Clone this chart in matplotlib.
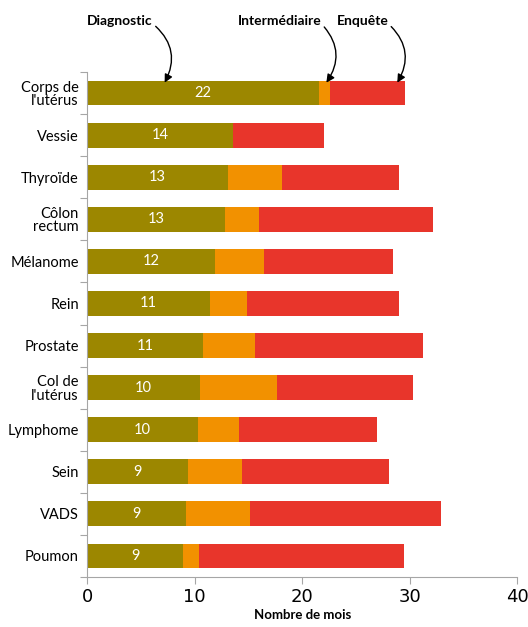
import numpy as np
import matplotlib
matplotlib.use("Agg")
import matplotlib.pyplot as plt

# categories, top to bottom
cats = ["Corps de\nl'utérus", "Vessie", "Thyroïde", "Côlon\nrectum", "Mélanome", "Rein",
        "Prostate", "Col de\nl'utérus", "Lymphome", "Sein", "VADS", "Poumon"]
diag = [21.6, 13.6, 13.1, 12.8, 11.9, 11.4, 10.8, 10.5, 10.3, 9.4, 9.2, 8.9]
inter = [1.0, 0.0, 5.0, 3.15, 4.55, 3.5, 4.85, 7.15, 3.8, 5.0, 5.9, 1.5]
enq = [7.0, 8.4, 10.95, 16.2, 12.0, 14.1, 15.6, 12.7, 12.9, 13.65, 17.8, 19.1]
diag_labels = ["22", "14", "13", "13", "12", "11", "11", "10", "10", "9", "9", "9"]

c_diag = "#9C8700"
c_inter = "#F29100"
c_enq = "#E8352B"
grey = "#A6A6A6"
lab_font = ["Lato", "DejaVu Sans"]

fig = plt.figure(figsize=(5.28, 6.27), dpi=100)
ax = fig.add_axes([0.1653, 0.0797, 0.814, 0.8055])

n = len(cats)
y = np.arange(n)
diag = np.array(diag)
inter = np.array(inter)
enq = np.array(enq)
h = 0.59
ax.barh(y, diag, height=h, color=c_diag)
ax.barh(y, inter, left=diag, height=h, color=c_inter)
ax.barh(y, enq, left=diag + inter, height=h, color=c_enq)

for yi, d, t in zip(y, diag, diag_labels):
    ax.text(d / 2, yi, t, color="white", ha="center", va="center",
            fontsize=10.5, family=lab_font)

ax.set_ylim(n - 0.5, -0.5)
ax.set_xlim(0, 40)

ax.set_yticks(np.arange(-0.5, n, 1))
ax.set_yticklabels([])
ax.set_yticks(y, minor=True)
ax.set_yticklabels(cats, minor=True, fontsize=10.5, family=lab_font, linespacing=0.95)
ax.tick_params(axis="y", which="minor", length=0, pad=6)
ax.tick_params(axis="y", which="major", length=5, color=grey, direction="out")

ax.set_xticks([0, 10, 20, 30, 40])
ax.tick_params(axis="x", length=5, color=grey, labelsize=13, pad=3)
for lab in ax.get_xticklabels():
    lab.set_family("DejaVu Sans")
ax.set_xlabel("Nombre de mois", fontsize=9.5, fontweight="bold", family=lab_font, labelpad=2)

for s in ["top", "right"]:
    ax.spines[s].set_visible(False)
for s in ["left", "bottom"]:
    ax.spines[s].set_color(grey)

# annotations with curved arrows
tip_y = -0.5 + (1 - h) / 2 + 0.05
notes = [("Diagnostic", 7.2, 0.0), ("Intermédiaire", 22.25, 14.0), ("Enquête", 28.85, 23.2)]
for txt, xt, xl in notes:
    ax.annotate(txt, xy=(xt, tip_y), xycoords="data",
                xytext=(xl, -1.7), textcoords="data",
                ha="left", va="center", fontsize=10, fontweight="bold", family=lab_font,
                annotation_clip=False,
                arrowprops=dict(arrowstyle="-|>", color="black", lw=1,
                                shrinkA=0, shrinkB=0, mutation_scale=12,
                                connectionstyle="arc3,rad=-0.4",
                                relpos=(1.0, 0.3)))

fig.savefig("out.png", dpi=100)
